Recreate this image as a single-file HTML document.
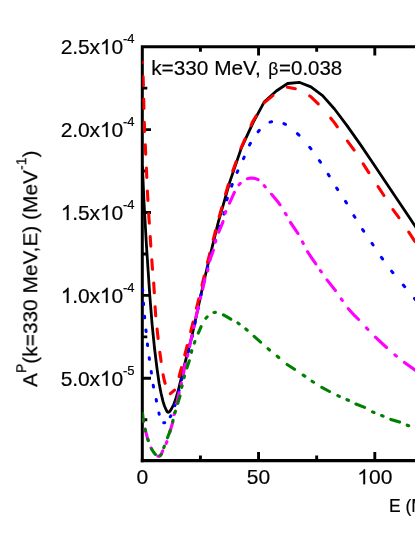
<!DOCTYPE html>
<html><head><meta charset="utf-8"><title>chart</title>
<style>html,body{margin:0;padding:0;background:#fff;}body{width:415px;height:537px;overflow:hidden;font-family:"Liberation Sans",sans-serif;}</style>
</head><body>
<svg width="415" height="537" viewBox="0 0 415 537" style="display:block">
<rect width="415" height="537" fill="#fff"/>
<path d="M142.3,462.30 V46.7 H420" stroke="#000" stroke-width="3.0" fill="none" stroke-linejoin="miter"/>
<path d="M140.80,460.6 H420" stroke="#000" stroke-width="3.4" fill="none"/>
<path d="M200.43,46.7v5.0 M200.43,460.6v-5.0 M258.55,46.7v8.7 M258.55,460.6v-8.7 M316.68,46.7v5.0 M316.68,460.6v-5.0 M374.80,46.7v8.7 M374.80,460.6v-8.7 M432.93,46.7v5.0 M432.93,460.6v-5.0 M142.3,88.15h5.0 M142.3,129.60h8.7 M142.3,171.05h5.0 M142.3,212.50h8.7 M142.3,253.95h5.0 M142.3,295.40h8.7 M142.3,336.85h5.0 M142.3,378.30h8.7 M142.3,419.75h5.0" stroke="#000" stroke-width="2.9" fill="none"/>
<defs><clipPath id="c"><rect x="142.3" y="46.7" width="415" height="413.90000000000003"/></clipPath></defs>
<g clip-path="url(#c)">
<path d="M142.4,166.0 L144.0,202.0 L146.5,246.3 L149.8,295.5 L152.1,324.4 L154.6,349.0 L157.0,368.5 L159.2,383.7 L161.1,393.5 L163.0,401.4 L164.4,405.7 L166.2,410.0 L167.2,411.7 L167.8,412.2 L168.3,412.3 L169.0,412.0 L170.1,410.9 L171.8,408.2 L173.6,404.8 L175.3,400.3 L178.0,391.5 L184.5,364.8 L188.4,349.7 L191.4,338.3 L195.3,320.7 L200.6,296.2 L207.1,267.8 L218.3,222.1 L229.9,181.6 L241.3,148.1 L253.2,122.3 L264.4,101.7 L276.3,91.0 L287.6,83.5 L299.2,82.3 L310.9,86.9 L322.6,95.6 L334.5,109.0 L347.0,125.6 L360.6,144.9 L371.7,161.2 L396.3,198.0 L409.9,218.3 L416.6,228.4" stroke="#000" stroke-width="2.8" fill="none" stroke-linejoin="round"/>
<path d="M142.6,62.3 L142.6,62.5 M143.1,76.5 L143.4,85.7 M143.7,99.0 L143.9,108.5 M144.3,122.3 L144.6,131.4 M145.3,144.8 L145.7,154.3 M146.4,168.1 L146.8,177.5 M147.4,191.1 L147.9,200.4 M148.7,213.8 L149.3,223.1 M150.2,236.6 L150.8,246.1 M151.8,259.9 L152.5,269.3 M153.7,283.1 L154.3,292.8 M155.1,306.7 L155.7,315.8 M157.1,329.1 L158.1,338.5 M159.8,352.2 L161.1,361.4 M163.1,374.7 L164.3,380.5 L165.1,383.3 M170.4,393.7 L174.5,390.1 M179.1,376.5 L181.5,367.7 M184.8,354.9 L187.2,345.5 M190.7,331.7 L193.1,322.1 M196.5,308.2 L198.8,298.9 M202.0,285.4 L204.2,276.1 M207.5,262.6 L209.8,253.3 M213.2,239.8 L215.6,230.5 M219.2,216.9 L221.8,207.6 M225.6,194.0 L228.3,184.7 M232.8,171.1 L236.1,161.8 M241.0,148.2 L245.1,138.9 M251.1,125.3 L252.9,121.2 L256.1,116.0 M264.4,102.6 L272.8,95.6 M287.4,87.3 L287.8,87.3 L295.3,88.8 M309.7,96.0 L311.0,96.8 L318.2,103.9 M330.8,118.2 L334.6,122.9 L337.3,126.8 M347.5,141.1 L354.1,150.1 M363.2,163.8 L368.8,172.7 M378.1,186.6 L383.6,195.0 L383.9,195.5 M393.0,209.6 L398.9,217.7 M408.8,232.1 L414.8,241.4" stroke="#ff0000" stroke-width="3.1" fill="none" stroke-linecap="round" stroke-linejoin="round"/>
<path d="M142.6,289.1 L142.7,290.7 M143.4,302.9 L143.6,304.5 M144.5,316.2 L144.7,317.8 M145.9,330.0 L146.1,331.6 M147.4,344.0 L147.6,345.6 M149.2,357.7 L149.4,359.3 M151.2,371.4 L151.4,373.0 M153.2,385.3 L153.5,387.0 M156.2,399.5 L156.5,401.1 M158.9,412.9 L159.2,414.3 M163.7,422.7 L164.3,422.8 L164.8,422.7 M170.3,416.8 L170.9,415.7 M174.8,405.7 L175.3,404.2 M178.6,391.8 L179.0,390.3 M181.8,379.4 L182.1,377.9 M184.8,365.6 L185.2,364.0 M188.6,351.7 L189.0,350.1 M191.9,337.5 L192.3,335.9 M195.0,323.4 L195.3,321.7 M197.8,309.6 L198.2,308.0 M200.8,295.8 L201.2,294.2 M204.0,281.8 L204.4,280.1 M207.4,267.7 L207.8,266.1 M211.0,254.7 L211.4,253.2 M214.8,241.7 L215.3,240.1 M219.4,227.9 L220.0,226.3 M223.9,214.1 L224.3,212.5 M226.9,199.9 L227.3,198.3 M231.6,186.1 L232.2,184.5 M237.1,172.4 L237.8,170.8 M243.5,158.6 L244.2,157.0 M249.5,144.9 L250.4,143.3 M258.1,131.8 L259.3,130.3 M270.0,122.1 L271.6,121.8 M283.9,123.6 L285.5,124.3 M297.4,133.7 L299.0,135.2 M309.7,147.3 L311.0,148.9 M319.4,160.7 L320.5,162.2 M328.2,174.3 L329.2,175.9 M336.7,188.1 L337.7,189.6 M345.5,201.4 L346.5,203.0 M353.9,215.7 L354.9,217.3 M362.6,229.6 L363.7,231.2 M372.0,243.4 L373.1,245.0 M381.4,257.4 L382.6,259.0 M391.6,271.1 L392.9,272.7 M403.3,285.1 L404.7,286.7 M414.5,298.5 L415.8,300.1" stroke="#0000ff" stroke-width="3.0" fill="none" stroke-linecap="round" stroke-linejoin="round"/>
<path d="M143.2,419.5 L143.4,421.0 M145.1,429.1 L147.4,438.0 L148.2,440.3 M151.1,448.0 L151.8,449.4 M157.8,456.1 L158.6,456.4 L159.4,456.2 L160.5,455.3 L161.5,453.9 L162.5,451.2 L162.7,450.9 M166.2,443.4 L166.9,441.7 M169.8,432.2 L172.5,423.0 L172.8,421.9 M174.2,414.5 L174.5,412.9 M176.7,403.6 L179.1,392.7 M181.0,384.6 L181.4,383.1 M183.2,375.0 L185.1,364.6 L185.2,364.2 M187.5,356.1 L187.9,354.6 M189.6,346.5 L191.9,335.5 M193.7,327.4 L194.1,325.9 M195.9,317.7 L198.3,306.8 M200.3,298.7 L200.7,297.2 M202.7,289.1 L204.9,279.0 M207.6,270.8 L208.0,269.2 M209.7,260.9 L211.4,255.8 L213.4,250.2 M215.3,242.2 L215.8,240.6 M218.7,232.2 L222.7,222.6 L223.0,221.6 M225.2,213.2 L225.7,211.6 M229.5,203.1 L233.8,193.7 L234.4,192.4 M239.0,184.8 L240.2,183.5 M247.4,178.8 L250.7,178.1 L252.9,178.0 L254.9,178.4 L257.7,179.5 L258.1,179.7 M264.2,185.6 L265.3,186.9 M271.6,194.3 L278.4,202.5 L280.1,204.8 M285.3,213.3 L286.2,214.8 M290.5,222.5 L297.9,233.3 L298.0,233.6 M302.5,241.9 L303.3,243.4 M307.5,251.7 L311.3,257.4 L315.8,263.9 M320.4,270.6 L321.3,271.9 M327.0,279.9 L335.4,290.5 M341.2,298.9 L342.3,300.4 M348.3,308.7 L352.9,313.8 L358.6,319.5 M366.4,327.8 L367.9,329.3 M375.4,337.2 L383.8,345.0 L386.6,347.5 M394.9,354.8 L396.4,356.1 M404.4,362.4 L415.3,370.2" stroke="#ff00ff" stroke-width="3.1" fill="none" stroke-linecap="round" stroke-linejoin="round"/>
<path d="M142.6,413.6 L143.2,419.7 L143.4,421.5 M145.1,429.4 L145.5,430.9 M147.7,439.0 L148.3,440.6 M151.6,449.0 L153.5,452.1 L155.2,454.2 L155.4,454.4 M160.2,455.6 L161.1,454.5 M163.8,447.7 L164.4,446.2 M167.5,437.8 L170.3,430.4 M172.6,421.9 L173.0,420.3 M175.1,412.7 L175.5,411.2 M177.8,403.4 L180.0,396.0 M181.7,387.4 L182.1,385.8 M184.1,377.6 L184.5,376.0 M186.9,368.0 L189.3,360.8 M191.4,352.3 L191.8,350.7 M194.3,343.1 L194.9,341.5 M198.3,333.2 L201.1,326.7 M205.9,318.3 L207.2,316.8 M213.9,312.5 L215.4,312.4 M223.4,314.9 L227.9,317.4 L230.8,319.1 M237.9,323.0 L239.2,323.9 M245.8,329.0 L247.2,330.2 M254.1,336.3 L260.6,342.2 M268.0,348.7 L269.5,350.0 M277.2,356.2 L278.8,357.5 M287.1,364.5 L294.5,369.3 M303.2,375.1 L304.8,376.1 M312.0,381.2 L313.6,382.2 M321.8,387.3 L329.5,391.5 M337.8,395.6 L339.4,396.4 M347.0,399.7 L348.5,400.3 M355.9,404.0 L364.6,407.4 M372.5,411.8 L374.0,412.5 M381.6,415.5 L383.1,416.1 M390.8,419.4 L399.6,422.1 M407.2,425.2 L408.7,425.7" stroke="#008000" stroke-width="3.1" fill="none" stroke-linecap="round" stroke-linejoin="round"/>
</g>
<g style="opacity:0.999" stroke="#000" stroke-width="0.2">
<text x="60.80" y="54.20" font-family="Liberation Sans, sans-serif" font-size="21.0" letter-spacing="-0.15">2.5x</text><path transform="translate(99.89,54.20) scale(0.01025,-0.01025)" d="M763 0H583V1147Q518 1085 412.5 1023T223 930V1104Q374 1175 487 1276T647 1472H763Z" stroke-width="19.5"/><text x="111.42" y="54.20" font-family="Liberation Sans, sans-serif" font-size="21.0" letter-spacing="-0.15">0</text><text x="122.94" y="42.90" font-family="Liberation Sans, sans-serif" font-size="13" letter-spacing="0.0">-4</text>
<text x="60.80" y="137.10" font-family="Liberation Sans, sans-serif" font-size="21.0" letter-spacing="-0.15">2.0x</text><path transform="translate(99.89,137.10) scale(0.01025,-0.01025)" d="M763 0H583V1147Q518 1085 412.5 1023T223 930V1104Q374 1175 487 1276T647 1472H763Z" stroke-width="19.5"/><text x="111.42" y="137.10" font-family="Liberation Sans, sans-serif" font-size="21.0" letter-spacing="-0.15">0</text><text x="122.94" y="125.80" font-family="Liberation Sans, sans-serif" font-size="13" letter-spacing="0.0">-4</text>
<path transform="translate(60.80,220.00) scale(0.01025,-0.01025)" d="M763 0H583V1147Q518 1085 412.5 1023T223 930V1104Q374 1175 487 1276T647 1472H763Z" stroke-width="19.5"/><text x="72.33" y="220.00" font-family="Liberation Sans, sans-serif" font-size="21.0" letter-spacing="-0.15">.5x</text><path transform="translate(99.89,220.00) scale(0.01025,-0.01025)" d="M763 0H583V1147Q518 1085 412.5 1023T223 930V1104Q374 1175 487 1276T647 1472H763Z" stroke-width="19.5"/><text x="111.42" y="220.00" font-family="Liberation Sans, sans-serif" font-size="21.0" letter-spacing="-0.15">0</text><text x="122.94" y="208.70" font-family="Liberation Sans, sans-serif" font-size="13" letter-spacing="0.0">-4</text>
<path transform="translate(60.80,302.90) scale(0.01025,-0.01025)" d="M763 0H583V1147Q518 1085 412.5 1023T223 930V1104Q374 1175 487 1276T647 1472H763Z" stroke-width="19.5"/><text x="72.33" y="302.90" font-family="Liberation Sans, sans-serif" font-size="21.0" letter-spacing="-0.15">.0x</text><path transform="translate(99.89,302.90) scale(0.01025,-0.01025)" d="M763 0H583V1147Q518 1085 412.5 1023T223 930V1104Q374 1175 487 1276T647 1472H763Z" stroke-width="19.5"/><text x="111.42" y="302.90" font-family="Liberation Sans, sans-serif" font-size="21.0" letter-spacing="-0.15">0</text><text x="122.94" y="291.60" font-family="Liberation Sans, sans-serif" font-size="13" letter-spacing="0.0">-4</text>
<text x="60.80" y="385.80" font-family="Liberation Sans, sans-serif" font-size="21.0" letter-spacing="-0.15">5.0x</text><path transform="translate(99.89,385.80) scale(0.01025,-0.01025)" d="M763 0H583V1147Q518 1085 412.5 1023T223 930V1104Q374 1175 487 1276T647 1472H763Z" stroke-width="19.5"/><text x="111.42" y="385.80" font-family="Liberation Sans, sans-serif" font-size="21.0" letter-spacing="-0.15">0</text><text x="122.94" y="374.50" font-family="Liberation Sans, sans-serif" font-size="13" letter-spacing="0.0">-5</text>
<text x="136.46" y="484.30" font-family="Liberation Sans, sans-serif" font-size="21.0" letter-spacing="0.0">0</text>
<text x="246.87" y="484.30" font-family="Liberation Sans, sans-serif" font-size="21.0" letter-spacing="0.0">50</text>
<path transform="translate(357.29,484.30) scale(0.01025,-0.01025)" d="M763 0H583V1147Q518 1085 412.5 1023T223 930V1104Q374 1175 487 1276T647 1472H763Z" stroke-width="19.5"/><text x="368.96" y="484.30" font-family="Liberation Sans, sans-serif" font-size="21.0" letter-spacing="0.0">00</text>
<text x="388.9" y="511.9" font-family="Liberation Sans, sans-serif" font-size="17.5">E (MeV)</text>
<text x="151.2" y="75.0" font-family="Liberation Sans, sans-serif" font-size="20.8">k=330 MeV, <tspan x="268.2" font-size="17.5">β</tspan><tspan x="279.1" font-size="20.45">=0.038</tspan></text>
<text transform="translate(37.3,387.0) rotate(-90)" font-family="Liberation Sans, sans-serif" font-size="20.9">A<tspan font-size="14" dy="-11">P</tspan><tspan dy="11">(k=330 MeV,E) (MeV</tspan><tspan font-size="14" dy="-11">-1</tspan><tspan dy="11">)</tspan></text>
</g>
</svg>
</body></html>
